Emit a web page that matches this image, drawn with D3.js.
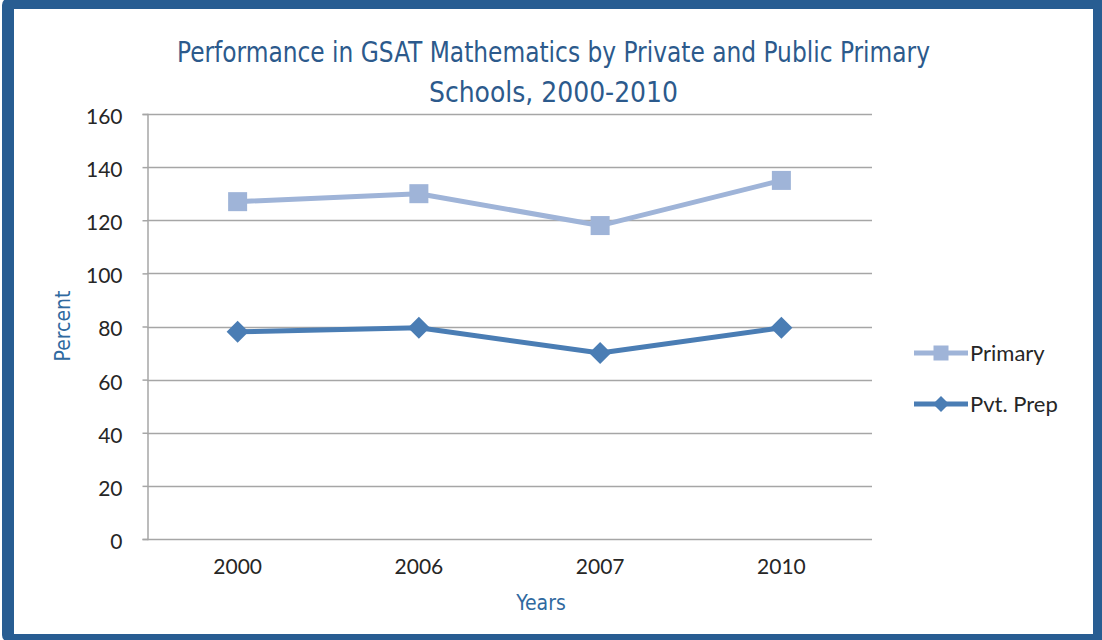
<!DOCTYPE html>
<html>
<head>
<meta charset="utf-8">
<script src="https://cdn.jsdelivr.net/npm/d3@7/dist/d3.min.js"></script>
<style>
  html, body { margin: 0; padding: 0; background: #ffffff; }
  svg { display: block; }
</style>
</head>
<body>
<svg id="chart" width="1102" height="640"></svg>
<script>
// GSAT Mathematics performance, public primary vs private prep schools
const years = ["2000", "2006", "2007", "2010"];
const primaryValues = [127, 130, 118, 135];
const pvtPrepValues = [78, 79.5, 70, 79.5];
const seriesNames = ["Primary", "Pvt. Prep"];
const yTicks = [0, 20, 40, 60, 80, 100, 120, 140, 160];
const titleLines = ["Performance in GSAT Mathematics by Private and Public Primary", "Schools, 2000-2010"];

const W = 1102, H = 640;
const svg = d3.select("#chart");

// frame
svg.append("rect").attr("x", 2).attr("y", -2).attr("width", W).attr("height", H + 4)
  .attr("rx", 7).attr("fill", "#285d92");
svg.append("rect").attr("x", 14).attr("y", 9).attr("width", 1079).attr("height", 625)
  .attr("fill", "#ffffff");

const plot = { left: 147, right: 872, top: 114, bottom: 539 };

const x = d3.scaleBand().domain(years).range([plot.left, plot.right]);
const y = d3.scaleLinear().domain([0, 160]).range([plot.bottom, plot.top]);

const labelFont = "Lato, 'Open Sans', sans-serif";
const titleFont = "'DejaVu Sans Condensed', 'Liberation Sans Narrow', sans-serif";

// title
svg.append("g").selectAll("text").data(titleLines).join("text")
  .attr("x", 553.5)
  .attr("y", (d, i) => 62 + i * 40)
  .attr("text-anchor", "middle")
  .attr("font-family", titleFont)
  .attr("font-size", 29)
  .attr("fill", "#2c5a8c")
  .attr("textLength", (d, i) => i === 0 ? 753 : 249)
  .attr("lengthAdjust", "spacingAndGlyphs")
  .text(d => d);

// gridlines
svg.append("g").selectAll("line").data(yTicks).join("line")
  .attr("x1", plot.left).attr("x2", plot.right)
  .attr("y1", d => Math.round(y(d)) + 0.5).attr("y2", d => Math.round(y(d)) + 0.5)
  .attr("stroke", "#a6a6a6").attr("stroke-width", 1.5);

// y axis
const yAxis = svg.append("g")
  .attr("transform", `translate(${plot.left + 0.5},0)`)
  .call(d3.axisLeft(y).tickValues(yTicks).tickSize(5).tickPadding(20));
yAxis.select(".domain").attr("stroke", "#a6a6a6").attr("stroke-width", 1.5);
yAxis.selectAll(".tick line").attr("stroke", "#a6a6a6").attr("stroke-width", 1.5);
yAxis.selectAll(".tick text").attr("font-family", labelFont).attr("font-size", 21)
  .attr("fill", "#262626").attr("dy", "0.45em");

// x axis labels
const xAxis = svg.append("g")
  .attr("transform", `translate(0,${plot.bottom})`)
  .call(d3.axisBottom(x).tickSize(0).tickPadding(24));
xAxis.select(".domain").remove();
xAxis.selectAll(".tick text").attr("font-family", labelFont).attr("font-size", 21)
  .attr("fill", "#262626").attr("dy", "0.5em");

// axis titles
svg.append("text")
  .attr("transform", "translate(70,326) rotate(-90)")
  .attr("text-anchor", "middle")
  .attr("font-family", titleFont).attr("font-size", 21)
  .attr("fill", "#2f69a0")
  .text("Percent");
svg.append("text")
  .attr("x", 541).attr("y", 610)
  .attr("text-anchor", "middle")
  .attr("font-family", titleFont).attr("font-size", 21)
  .attr("fill", "#2f69a0")
  .text("Years");

const series = [
  { name: seriesNames[0], values: primaryValues, color: "#9fb4d8", shape: "square" },
  { name: seriesNames[1], values: pvtPrepValues, color: "#4a7db4", shape: "diamond" }
];

const line = d3.line()
  .x((d, i) => x(years[i]) + x.bandwidth() / 2)
  .y(d => y(d));

function marker(sel, shape, size, color) {
  if (shape === "square") {
    sel.append("rect")
      .attr("x", -size / 2).attr("y", -size / 2)
      .attr("width", size).attr("height", size)
      .attr("fill", color);
  } else {
    const h = size / 2;
    sel.append("path")
      .attr("d", `M0,${-h}L${h},0L0,${h}L${-h},0Z`)
      .attr("fill", color);
  }
}

series.forEach(s => {
  svg.append("path")
    .datum(s.values)
    .attr("d", line)
    .attr("fill", "none")
    .attr("stroke", s.color)
    .attr("stroke-width", 5)
    .attr("stroke-linejoin", "round");
  svg.append("g").selectAll("g").data(s.values).join("g")
    .attr("transform", (d, i) => `translate(${x(years[i]) + x.bandwidth() / 2},${y(d)})`)
    .each(function () { marker(d3.select(this), s.shape, s.shape === "square" ? 19 : 22, s.color); });
});

// legend
const legend = svg.append("g");
series.forEach((s, i) => {
  const ly = 353 + i * 51;
  const g = legend.append("g").attr("transform", `translate(0,${ly})`);
  g.append("line").attr("x1", 914).attr("x2", 968).attr("y1", 0).attr("y2", 0)
    .attr("stroke", s.color).attr("stroke-width", 5);
  const m = g.append("g").attr("transform", "translate(941,0)");
  marker(m, s.shape, s.shape === "square" ? 15 : 16, s.color);
  g.append("text").attr("x", 970).attr("y", 0).attr("dy", "0.36em")
    .attr("font-family", labelFont).attr("font-size", 22)
    .attr("fill", "#262626")
    .text(s.name);
});
</script>
</body>
</html>
